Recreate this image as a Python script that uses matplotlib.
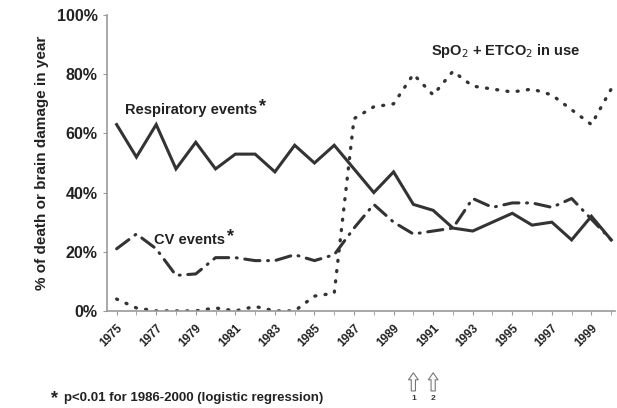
import matplotlib.pyplot as plt
import numpy as np

plt.rcParams['font.family'] = ['Liberation Sans', 'DejaVu Sans']

years = np.arange(1975, 2001)
respiratory = [63, 52, 63, 48, 57, 48, 53, 53, 47, 56, 50, 56, 48, 40, 47,
               36, 34, 28, 27, 30, 33, 29, 30, 24, 32, 24]
cv_events = [21, 26, 21, 12, 12.5, 18, 18, 17, 17, 19, 17, 19, 28, 36, 30,
             26, 27, 28, 38, 35, 36.5, 36.5, 35, 38, 31, 24]
spo2 = [4, 1, 0, 0, 0, 1, 0, 1.5, 0, 0, 5, 6, 65, 69, 70,
        80, 73, 81, 76, 75, 74, 75, 73, 68, 63, 75]
tick_years = list(range(1975, 2000, 2))
arrow_years = [1990, 1991]

fig = plt.figure(figsize=(6.17, 4.08), dpi=100)
ax = fig.add_axes([0.173, 0.238, 0.824, 0.725])

col = '#333333'
ax.plot(years, respiratory, color=col, lw=2.2, solid_joinstyle='miter')
ax.plot(years, spo2, color=col, lw=2.4, linestyle=(0, (0.3, 2.8)),
        dash_capstyle='round')
ax.plot(years, cv_events, color=col, lw=2.2, linestyle=(0, (5, 2.5, 0.3, 2.5)),
        dash_capstyle='round')

ax.set_ylim(0, 100)
ax.set_xlim(1974.5, 2000.2)
ax.set_yticks([0, 20, 40, 60, 80, 100])
ax.set_yticklabels(['0%', '20%', '40%', '60%', '80%', '100%'],
                   fontsize=11.5, fontweight='bold', color='#222222')
ax.set_xticks(years, minor=True)
ax.set_xticks(tick_years)
ax.set_xticklabels([str(y) for y in tick_years], rotation=45, ha='right',
                   rotation_mode='anchor', fontsize=8.5, fontweight='bold',
                   color='#222222')
ax.tick_params(axis='x', which='both', length=3, color='#999999', pad=5)
ax.tick_params(axis='y', length=3, color='#999999')
for s in ['top', 'right']:
    ax.spines[s].set_visible(False)
for s in ['left', 'bottom']:
    ax.spines[s].set_color('#999999')
    ax.spines[s].set_linewidth(1.2)

ax.set_ylabel('% of death or brain damage in year', fontsize=11,
              fontweight='bold', color='#222222', labelpad=6)

ax.text(1975.4, 66.5, 'Respiratory events', fontsize=10.5,
        fontweight='bold', color='#222222')
ax.text(1982.2, 67.5, '*', fontsize=13, fontweight='bold', color='#222222')
ax.text(1976.9, 22.5, 'CV events', fontsize=10.5, fontweight='bold',
        color='#222222')
ax.text(1980.6, 23.5, '*', fontsize=13, fontweight='bold', color='#222222')
ax.text(1990.9, 86.5, 'SpO$_2$ + ETCO$_2$ in use', fontsize=10.5,
        fontweight='bold', color='#222222')

fig.text(0.082, 0.012, '*', fontsize=13, fontweight='bold', color='#222222')
fig.text(0.104, 0.018, 'p<0.01 for 1986-2000 (logistic regression)',
         fontsize=9.5, fontweight='bold', color='#222222')

for i, yr in enumerate(arrow_years):
    ax.annotate('', xy=(yr, -20), xytext=(yr, -28), xycoords='data',
                annotation_clip=False,
                arrowprops=dict(arrowstyle='simple,head_width=0.7,head_length=0.5,tail_width=0.3',
                                fc='white', ec='#777777', lw=0.8))
    ax.text(yr, -28.3, str(i + 1), fontsize=6, fontweight='bold',
            ha='center', va='top', color='#333333', clip_on=False)

fig.savefig('out.png', dpi=100)
